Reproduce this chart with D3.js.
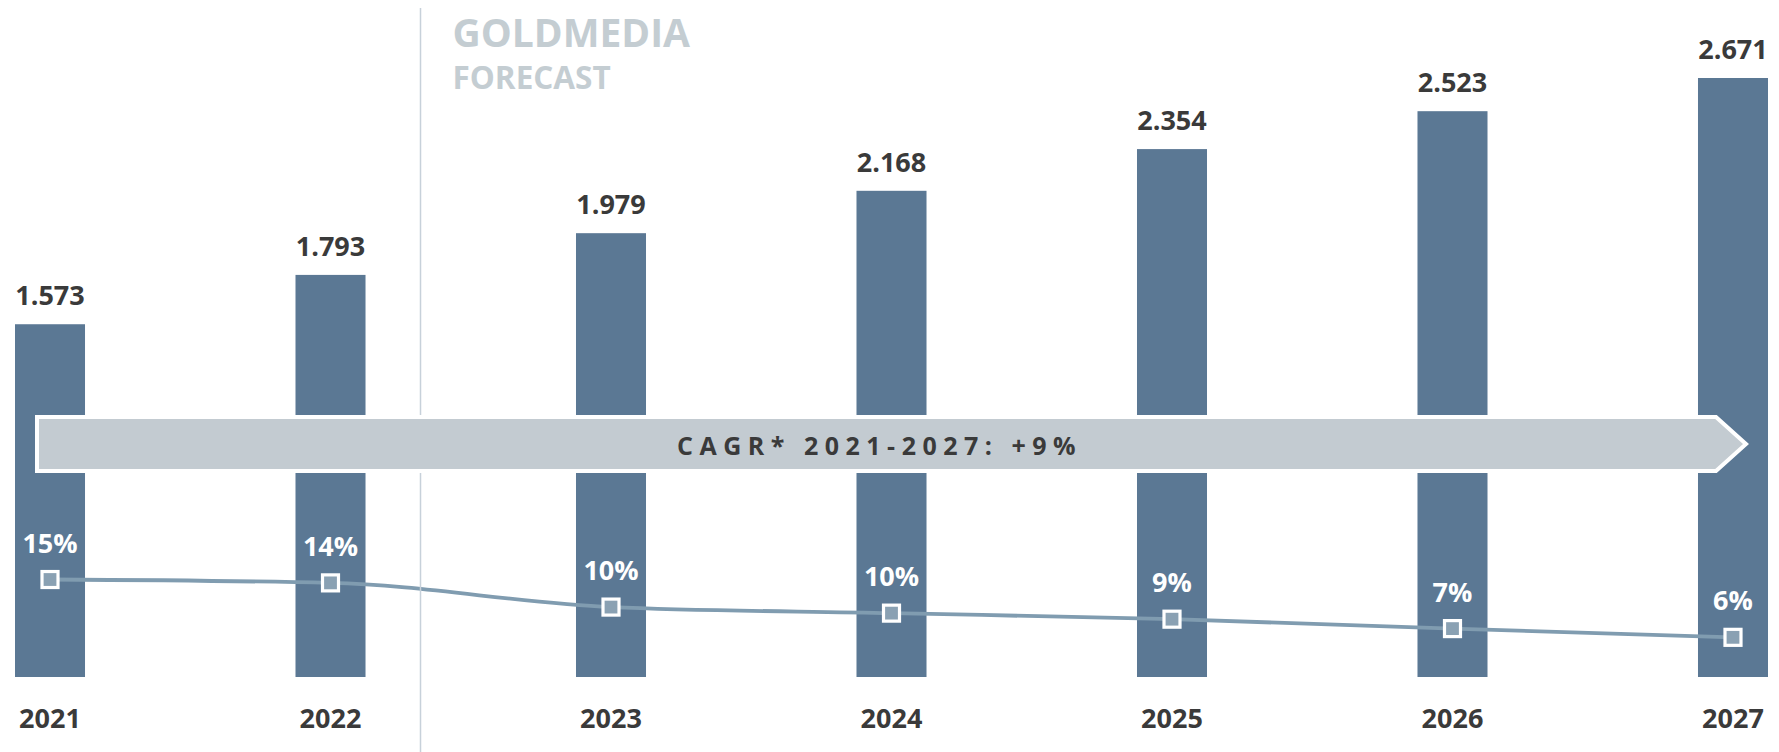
<!DOCTYPE html>
<html>
<head>
    <style>
        body { margin: 0; background: #fff; }
        svg text { font-family: "Open Sans", "Noto Sans", sans-serif; font-weight: bold; }
        .value { fill: #3a3a3a; font-size: 27px; text-anchor: middle; }
        .year { fill: #3a3a3a; font-size: 27px; text-anchor: middle; }
        .pct { fill: #fff; font-size: 27px; text-anchor: middle; }
        .brand { fill: #c4cdd2; }
        .cagr { fill: #3a3a3a; font-size: 25px; letter-spacing: 6.5px; }
    </style>
    <script src="https://d3js.org/d3.v7.min.js"></script>
</head>
<body>
    <svg width="1779" height="752"></svg>
    <script>

        // chart data
        var years = ["2021", "2022", "2023", "2024", "2025", "2026", "2027"];
        var revenue = [1.573, 1.793, 1.979, 2.168, 2.354, 2.523, 2.671];
        var revenueLabels = ["1.573", "1.793", "1.979", "2.168", "2.354", "2.523", "2.671"];
        var growth = [14.5, 14.0, 10.4, 9.5, 8.6, 7.2, 5.9];
        var growthLabels = ["15%", "14%", "10%", "10%", "9%", "7%", "6%"];
        var cagrText = "CAGR* 2021-2027: +9%";
        var forecastFrom = "2023";

        var svg = d3.select("svg");

        var x = d3.scaleBand()
                  .domain(years)
                  .range([15, 1768])
                  .paddingInner(0.7504)
                  .paddingOuter(0);

        var y = d3.scaleLinear()
                  .domain([0, d3.max(revenue)])
                  .range([677, 78]);

        var yGrowth = d3.scaleLinear()
                        .domain([0, 89.1])
                        .range([677, 78]);

        var data = years.map(function(d, i) {
            return { year: d, value: revenue[i], label: revenueLabels[i], g: growth[i], gLabel: growthLabels[i] };
        });

        var cx = function(d) { return x(d.year) + x.bandwidth() / 2; };

        // bars
        svg.append("g").selectAll("rect")
           .data(data)
           .enter().append("rect")
           .attr("x", function(d) { return x(d.year); })
           .attr("y", function(d) { return y(d.value); })
           .attr("width", x.bandwidth())
           .attr("height", function(d) { return y(0) - y(d.value); })
           .attr("fill", "#5b7894");

        svg.append("g").selectAll("text")
           .data(data)
           .enter().append("text")
           .attr("class", "value")
           .attr("x", cx)
           .attr("y", function(d) { return y(d.value) - 19; })
           .text(function(d) { return d.label; });

        // growth line
        var line = d3.line()
                     .x(cx)
                     .y(function(d) { return yGrowth(d.g); })
                     .curve(d3.curveMonotoneX);

        svg.append("path")
           .datum(data)
           .attr("d", line)
           .attr("fill", "none")
           .attr("stroke", "#809cb0")
           .attr("stroke-width", 3.8);

        // forecast divider, sits a bit after the last actual year
        var divX = x(years[years.indexOf(forecastFrom) - 1]) + x.bandwidth() + 55;
        svg.append("line")
           .attr("x1", divX).attr("x2", divX)
           .attr("y1", 8).attr("y2", 752)
           .attr("stroke", "#c7d1da")
           .attr("stroke-width", 1.5);

        svg.append("text")
           .attr("class", "brand")
           .attr("x", divX + 32)
           .attr("y", 47)
           .style("font-size", "39px")
           .text("GOLDMEDIA");

        svg.append("text")
           .attr("class", "brand")
           .attr("x", divX + 32)
           .attr("y", 89)
           .style("font-size", "31.5px")
           .text("FORECAST");

        // CAGR arrow
        var ay0 = 417, ay1 = 471, am = (ay0 + ay1) / 2;
        var ax0 = 37, ax1 = 1716, axTip = 1746;
        svg.append("path")
           .attr("d", "M" + ax0 + "," + ay0 + "H" + ax1 + "L" + axTip + "," + am + "L" + ax1 + "," + ay1 + "H" + ax0 + "Z")
           .attr("fill", "#c3cbd1")
           .attr("stroke", "#fff")
           .attr("stroke-width", 4);

        svg.append("text")
           .attr("class", "cagr")
           .attr("x", 677)
           .attr("y", 455)
           .text(cagrText);

        // markers
        svg.append("g").selectAll("rect")
           .data(data)
           .enter().append("rect")
           .attr("x", function(d) { return cx(d) - 8; })
           .attr("y", function(d) { return yGrowth(d.g) - 8; })
           .attr("width", 16)
           .attr("height", 16)
           .attr("fill", "#8aa1b3")
           .attr("stroke", "#fff")
           .attr("stroke-width", 3.2);

        svg.append("g").selectAll("text")
           .data(data)
           .enter().append("text")
           .attr("class", "pct")
           .attr("x", cx)
           .attr("y", function(d) { return yGrowth(d.g) - 27; })
           .text(function(d) { return d.gLabel; });

        // year labels
        svg.append("g").selectAll("text")
           .data(data)
           .enter().append("text")
           .attr("class", "year")
           .attr("x", cx)
           .attr("y", 728)
           .text(function(d) { return d.year; });
    </script>
</body>
</html>
